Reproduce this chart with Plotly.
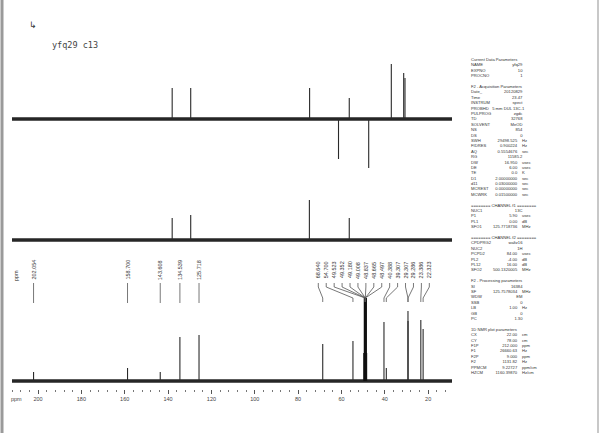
import plotly.graph_objects as go

W, H = 600, 433
PPM_MAX, PPM_MIN = 212.0, 9.0

title_text = "yfq29 c13"

# 13C spectrum (bottom): shift (ppm) and relative intensity (a.u.)
c13_ppm = [202.054, 158.700, 143.608, 134.539, 125.718, 68.640, 54.700,
           49.523, 49.352, 49.180, 49.008, 48.837, 48.665, 48.497,
           40.388, 39.307, 29.307, 29.286, 23.386, 22.323]
c13_int = [9, 13, 9, 44, 46, 37, 40,
           28, 83, 83, 83, 83, 83, 28,
           59, 13, 70, 60, 61, 52]
c13_labels = ["202.054", "158.700", "143.608", "134.539", "125.718",
              "68.640", "54.700", "49.523", "49.352", "49.180", "49.008",
              "48.837", "48.665", "48.497", "40.388", "39.307", "29.307",
              "29.286", "23.386", "22.323"]

# DEPT-90 (middle)
dept90_ppm = [138.1, 129.55, 74.8, 56.4]
dept90_int = [22, 25, 40, 22]

# DEPT-135 (top)
dept135_ppm = [138.1, 129.55, 74.7, 61.36, 56.4, 47.43, 37.0, 31.29, 30.69]
dept135_int = [31, 31, 31, -40, 21, -49, 55, 46, 41]

axis_ticks = [200, 180, 160, 140, 120, 100, 80, 60, 40, 20]

param_rows = [
    ("Current Data Parameters", "", "", ""),
    ("NAME", "", "yfq29", ""),
    ("EXPNO", "", "10", ""),
    ("PROCNO", "", "1", ""),
    ("", "", "", ""),
    ("F2 - Acquisition Parameters", "", "", ""),
    ("Date_", "", "20120829", ""),
    ("Time", "", "23.47", ""),
    ("INSTRUM", "", "spect", ""),
    ("PROBHD   5 mm DUL 13C-1", "", "", ""),
    ("PULPROG", "", "zgdc", ""),
    ("TD", "", "32768", ""),
    ("SOLVENT", "", "MeOD", ""),
    ("NS", "", "854", ""),
    ("DS", "", "0", ""),
    ("SWH", "29498.525", "", "Hz"),
    ("FIDRES", "0.900224", "", "Hz"),
    ("AQ", "0.5554676", "", "sec"),
    ("RG", "", "11585.2", ""),
    ("DW", "16.950", "", "usec"),
    ("DE", "6.00", "", "usec"),
    ("TE", "0.0", "", "K"),
    ("D1", "2.00000000", "", "sec"),
    ("d11", "0.03000000", "", "sec"),
    ("MCREST", "0.00000000", "", "sec"),
    ("MCWRK", "0.01500000", "", "sec"),
    ("", "", "", ""),
    ("======== CHANNEL f1 ========", "", "", ""),
    ("NUC1", "", "13C", ""),
    ("P1", "5.90", "", "usec"),
    ("PL1", "0.00", "", "dB"),
    ("SFO1", "125.7718736", "", "MHz"),
    ("", "", "", ""),
    ("======== CHANNEL f2 ========", "", "", ""),
    ("CPDPRG2", "", "waltz16", ""),
    ("NUC2", "", "1H", ""),
    ("PCPD2", "84.00", "", "usec"),
    ("PL2", "-4.00", "", "dB"),
    ("PL12", "16.00", "", "dB"),
    ("SFO2", "500.1320005", "", "MHz"),
    ("", "", "", ""),
    ("F2 - Processing parameters", "", "", ""),
    ("SI", "", "16384", ""),
    ("SF", "125.7578034", "", "MHz"),
    ("WDW", "", "EM", ""),
    ("SSB", "", "0", ""),
    ("LB", "1.00", "", "Hz"),
    ("GB", "", "0", ""),
    ("PC", "", "1.30", ""),
    ("", "", "", ""),
    ("1D NMR plot parameters", "", "", ""),
    ("CX", "22.00", "", "cm"),
    ("CY", "78.00", "", "cm"),
    ("F1P", "212.000", "", "ppm"),
    ("F1", "26660.63", "", "Hz"),
    ("F2P", "9.000", "", "ppm"),
    ("F2", "1131.82", "", "Hz"),
    ("PPMCM", "9.22727", "", "ppm/cm"),
    ("HZCM", "1160.39870", "", "Hz/cm"),
]

# ---------------------------------------------------------------- helpers
def py(px):
    return 1 - px / H

def px2ppm(x):
    x0, x1 = 12, 452
    return PPM_MAX - (x - x0) / (x1 - x0) * (PPM_MAX - PPM_MIN)

def ydom(top_px, bot_px, base_px):
    return dict(domain=[py(bot_px), py(top_px)],
                range=[-(bot_px - base_px), base_px - top_px])

def sticks(ppm, inten):
    xs, ys = [], []
    for p, i in zip(ppm, inten):
        xs += [p, p, None]
        ys += [0, i, None]
    return xs, ys

fig = go.Figure()

spectra = [
    ("y", c13_ppm, c13_int),
    ("y2", dept90_ppm, dept90_int),
    ("y3", dept135_ppm, dept135_int),
]
for yax, pp, ii in spectra:
    fig.add_trace(go.Scatter(x=[PPM_MAX, PPM_MIN], y=[0, 0], yaxis=yax,
                             mode="lines", line=dict(color="#262626", width=3.6),
                             hoverinfo="skip", showlegend=False))
    xs, ys = sticks(pp, ii)
    fig.add_trace(go.Scatter(x=xs, y=ys, yaxis=yax, mode="lines",
                             line=dict(color="#2a2a2a", width=1.1),
                             showlegend=False))

# solvent multiplet drawn a little heavier
solv = [k for k, p in enumerate(c13_ppm) if 48.4 < p < 49.6]
xs, ys = sticks([c13_ppm[k] for k in solv], [c13_int[k] for k in solv])
fig.add_trace(go.Scatter(x=xs, y=ys, yaxis="y", mode="lines",
                         line=dict(color="#111", width=1.6), showlegend=False))

shapes = []
annotations = []

# peak labels and leader lines
lab_font = dict(family="Liberation Sans, Arial", size=5.5, color="#333")
n_left = 5
for k in range(len(c13_labels)):
    p = c13_ppm[k]
    if k < n_left:
        lx = p
        path = f"M {p},{py(283)} L {p},{py(303)}"
    else:
        j = k - n_left
        lx = px2ppm(318.3 + j * 7.93)
        tx = 49.0 if 48.4 < p < 49.6 else p
        path = (f"M {lx},{py(283)} L {lx},{py(287)} "
                f"L {tx},{py(298)} L {tx},{py(302)}")
    shapes.append(dict(type="path", xref="x", yref="paper", path=path,
                       line=dict(color="#555", width=0.8)))
    annotations.append(dict(x=lx, y=py(270), xref="x", yref="paper",
                            text=c13_labels[k], textangle=-90, showarrow=False,
                            xanchor="center", yanchor="middle", font=lab_font))

annotations.append(dict(x=16 / W, y=py(276), xref="paper", yref="paper",
                        text="ppm", textangle=-90, showarrow=False,
                        xanchor="center", yanchor="middle", font=lab_font))
annotations.append(dict(x=16 / W, y=py(399), xref="paper", yref="paper",
                        text="ppm", showarrow=False, xanchor="center",
                        yanchor="middle",
                        font=dict(family="Liberation Sans, Arial", size=5.5, color="#444")))

# title text and cursor glyph
annotations.append(dict(x=50 / W, y=py(45), xref="paper", yref="paper",
                        text=title_text, showarrow=False, xanchor="left",
                        yanchor="middle",
                        font=dict(family="DejaVu Sans Mono", size=8.5, color="#444")))
annotations.append(dict(x=33 / W, y=py(25), xref="paper", yref="paper",
                        text="↳", showarrow=False, xanchor="center",
                        yanchor="middle",
                        font=dict(family="DejaVu Sans", size=9, color="#333")))

# parameter panel (four columns)
NB = "\u00a0"
cols = list(zip(*param_rows))
pfont = dict(family="Liberation Sans, Arial", size=4.15, color="#333")
ymid = py((60 + 372.3) / 2)
col_specs = [(0, 470, "left"), (1, 518.7, "right"), (2, 523.5, "right"), (3, 520.5, "left")]
for ci, xpx, al in col_specs:
    txt = "<br>".join(s if s else NB for s in cols[ci])
    annotations.append(dict(x=xpx / W, y=ymid, xref="paper", yref="paper",
                            text=txt, showarrow=False, align=al, xanchor=al,
                            yanchor="middle", borderpad=0, font=pfont))

# page edges
shapes.append(dict(type="line", xref="paper", yref="paper", x0=2 / W, x1=2 / W,
                   y0=0, y1=1, line=dict(color="#9a9a9a", width=3)))
shapes.append(dict(type="line", xref="paper", yref="paper", x0=598 / W, x1=598 / W,
                   y0=0, y1=1, line=dict(color="#c8c8c8", width=2)))

bottom = ydom(255, 433, 381)
middle = ydom(176, 252, 240)
top = ydom(45, 174, 119)

fig.update_layout(
    width=W, height=H,
    margin=dict(l=0, r=0, t=0, b=0),
    paper_bgcolor="white", plot_bgcolor="rgba(0,0,0,0)",
    showlegend=False,
    xaxis=dict(domain=[12 / W, 452 / W], range=[PPM_MAX, PPM_MIN],
               anchor="free", position=py(389),
               tickmode="array", tickvals=axis_ticks,
               ticktext=[str(t) for t in axis_ticks],
               ticks="outside", ticklen=4, tickwidth=0.8, tickcolor="#555",
               minor=dict(tickmode="linear", tick0=0, dtick=4, ticks="outside",
                          ticklen=2, tickwidth=0.8, tickcolor="#777"),
               showline=False, showgrid=False, zeroline=False,
               tickfont=dict(family="Liberation Sans, Arial", size=5.5, color="#444")),
    yaxis=dict(domain=bottom["domain"], range=bottom["range"], anchor="x",
               visible=False, fixedrange=True),
    yaxis2=dict(domain=middle["domain"], range=middle["range"], anchor="x",
                visible=False, fixedrange=True),
    yaxis3=dict(domain=top["domain"], range=top["range"], anchor="x",
                visible=False, fixedrange=True),
    shapes=shapes,
    annotations=annotations,
)

fig.write_html(
    "out.html",
    config={"displayModeBar": False},
    post_script="document.body.style.margin='0';document.body.style.overflow='hidden';",
)
